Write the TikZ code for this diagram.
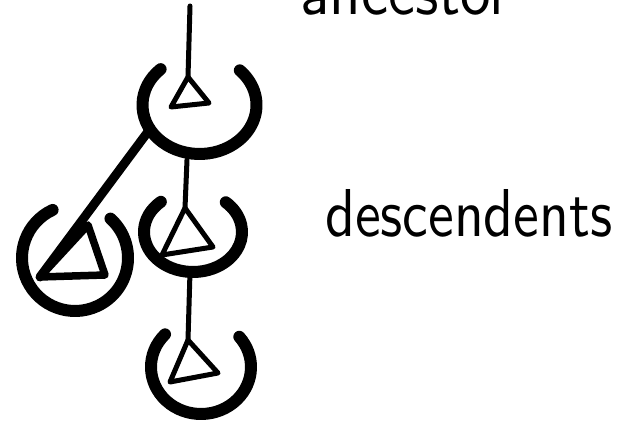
\documentclass[tikz,border=0pt]{standalone}
\usepackage{graphicx}
\begin{document}
\begin{tikzpicture}[x=1pt,y=1pt,
  cupline/.style={line width=12pt,line cap=round},
  tri/.style={line width=5pt,line join=round},
  tribold/.style={line width=7.5pt,line join=round},
  link/.style={line width=5pt,line cap=round},
  linkbold/.style={line width=9pt,line cap=round},
  lbl/.style={inner sep=0pt,anchor=base west}]
\useasboundingbox (0,0) rectangle (622,422);
% cup centres
\coordinate (c1) at (199.5,317);
\coordinate (c2) at (75,164);
\coordinate (c3) at (193,190);
\coordinate (c4) at (201,55);
% cups
\draw[cupline] (c1) ++(133:57 and 49) arc[start angle=133,end angle=405,x radius=57,y radius=49];
\draw[cupline] (c2) ++(115:53 and 53) arc[start angle=115,end angle=408,x radius=53,y radius=53];
\draw[cupline] (c3) ++(131:49 and 40) arc[start angle=131,end angle=408,x radius=49,y radius=40];
\draw[cupline] (c4) ++(136:50 and 47) arc[start angle=136,end angle=400,x radius=50,y radius=47];
% triangles
\coordinate (t1a) at (188,345); \coordinate (t1l) at (171,315); \coordinate (t1r) at (209,319);
\coordinate (t2a) at (88,197);  \coordinate (t2l) at (40,145);  \coordinate (t2r) at (105,147);
\coordinate (t3a) at (185,214); \coordinate (t3l) at (162,167); \coordinate (t3r) at (213,175);
\coordinate (t4a) at (188,82);  \coordinate (t4l) at (170,40);  \coordinate (t4r) at (218,49);
\draw[tri] (t1a) -- (t1l) -- (t1r) -- cycle;
\draw[tribold] (t2a) -- (t2l) -- (t2r) -- cycle;
\draw[tri] (t3a) -- (t3l) -- (t3r) -- cycle;
\draw[tri] (t4a) -- (t4l) -- (t4r) -- cycle;
% connectors
\coordinate (top) at (190,416);
\coordinate (c1diag) at (147,289);
\coordinate (c1bot) at (187,262);
\coordinate (c3bot) at (190,150);
\draw[link] (top) -- (t1a);
\draw[linkbold] (c1diag) -- (t2l);
\draw[link] (c1bot) -- (t3a);
\draw[link] (c3bot) -- (t4a);
% labels
\node[lbl] (anc) at (300,407) {\resizebox{210pt}{47pt}{\sffamily\vphantom{d}ancestor}};
\node[lbl] (desc) at (325,185) {\resizebox{287pt}{47pt}{\sffamily\vphantom{d}descendents}};
\end{tikzpicture}
\end{document}
